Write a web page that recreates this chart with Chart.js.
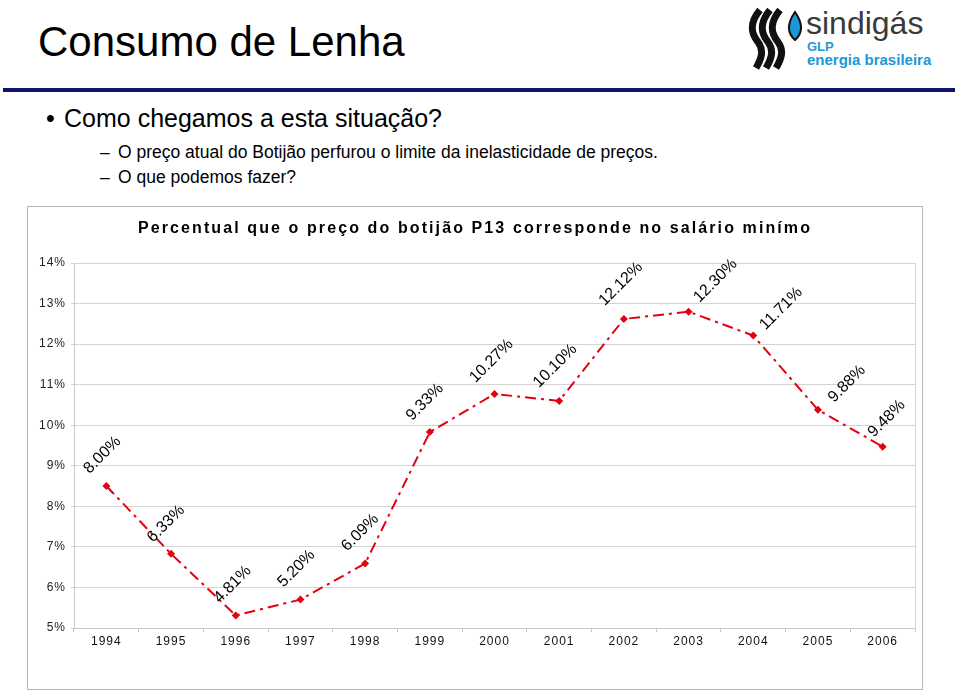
<!DOCTYPE html>
<html>
<head>
<meta charset="utf-8">
<script src="https://cdn.jsdelivr.net/npm/chart.js@4.4.1/dist/chart.umd.min.js"></script>
<style>
  body { margin: 0; width: 960px; height: 693px; background: #fff; font-family: Arial, "Liberation Sans", sans-serif; position: relative; overflow: hidden; }
  .abs { position: absolute; white-space: nowrap; }
  #heading { left: 38px; top: 21px; font-size: 42px; line-height: 42px; color: #000; }
  #rule { left: 3px; top: 88px; width: 952px; height: 4px; background: #11146b; }
  #b1 { left: 46px; top: 103px; font-size: 25px; line-height: 30px; }
  #b1 span { position: absolute; left: 18px; }
  .sub { left: 100px; font-size: 17.5px; line-height: 22px; }
  .sub span { position: absolute; left: 18px; }
  #box { left: 27px; top: 206px; width: 896px; height: 484px; border: 1px solid #b5b5b5; box-sizing: border-box; }
  #ctitle { left: 0; width: 100%; top: 12px; text-align: center; font-weight: bold; font-size: 16px; letter-spacing: 2.1px; color: #000; }
  #wrap { position: absolute; left: 0; top: 0; width: 894px; height: 482px; }
  #logo { left: 748px; top: 2px; width: 190px; height: 72px; }
  #logo .name { position: absolute; left: 58px; top: 3px; font-size: 32px; color: #3a3a3a; }
  #logo .glp { position: absolute; left: 59px; top: 38px; font-size: 13px; font-weight: bold; color: #1f97d4; line-height: 13px; }
  #logo .eb { position: absolute; left: 59px; top: 50px; font-size: 15px; font-weight: bold; color: #1f97d4; line-height: 15px; }
</style>
</head>
<body>
<div id="heading" class="abs">Consumo de Lenha</div>
<div id="logo" class="abs">
  <svg width="56" height="72" style="position:absolute;left:0;top:0">
    <path d="M12 8 C2 20, 2 30, 10 40 C16 48, 14 56, 8 66" stroke="#111" stroke-width="7" fill="none"/>
    <path d="M22 8 C12 20, 12 30, 20 40 C26 48, 24 56, 18 66" stroke="#111" stroke-width="7" fill="none"/>
    <path d="M32 8 C22 20, 22 30, 30 40 C36 48, 34 56, 28 66" stroke="#111" stroke-width="7" fill="none"/>
    <path d="M47 10 C40 20, 38 30, 47 38 C56 30, 54 20, 47 10 Z" fill="#1f97d4" stroke="#111" stroke-width="2"/>
  </svg>
  <div class="name">sindigás</div>
  <div class="glp">GLP</div>
  <div class="eb">energia brasileira</div>
</div>
<div id="rule" class="abs"></div>
<div id="b1" class="abs">•<span>Como chegamos a esta situação?</span></div>
<div class="abs sub" style="top:141px">–<span>O preço atual do Botijão perfurou o limite da inelasticidade de preços.</span></div>
<div class="abs sub" style="top:166px">–<span>O que podemos fazer?</span></div>

<div id="box" class="abs">
  <div id="wrap"><canvas id="chart"></canvas></div>
  <div id="ctitle" class="abs">Percentual que o preço do botijão P13 corresponde no salário minímo</div>
</div>

<script>
const years = ['1994', '1995', '1996', '1997', '1998', '1999', '2000', '2001', '2002', '2003', '2004', '2005', '2006'];
// point heights as read against the printed axis
const shares = [8.50, 6.83, 5.31, 5.70, 6.59, 9.83, 10.77, 10.60, 12.62, 12.80, 12.21, 10.38, 9.47];
// the value labels printed next to each point
const pointLabels = ['8.00%', '6.33%', '4.81%', '5.20%', '6.09%', '9.33%', '10.27%', '10.10%', '12.12%', '12.30%', '11.71%', '9.88%', '9.48%'];
const yTicks = [5, 6, 7, 8, 9, 10, 11, 12, 13, 14];

const labelShift = [[-4, -31], [-5, -30], [-3, -31], [-4, -31], [-5, -31], [-5, -30], [-3, -33],
                    [-4, -35], [-3, -35], [27, -31], [28, -27], [29, -26], [4, -28]];

const spacing = {
    id: 'spacing',
    beforeDraw(chart) { chart.ctx.letterSpacing = '1px'; },
    afterDraw(chart) { chart.ctx.letterSpacing = '0px'; }
};

const pointText = {
    id: 'pointText',
    afterDatasetsDraw(chart) {
        const ctx = chart.ctx;
        const meta = chart.getDatasetMeta(0);
        meta.data.forEach((pt, i) => {
            const [dx, dy] = labelShift[i];
            ctx.save();
            ctx.letterSpacing = '0px';
            ctx.translate(pt.x + dx, pt.y + dy);
            ctx.rotate(-Math.PI / 4);
            ctx.font = '16px Arial, "Liberation Sans", sans-serif';
            ctx.fillStyle = '#000';
            ctx.textAlign = 'center';
            ctx.textBaseline = 'middle';
            ctx.fillText(pointLabels[i], 0, 0);
            ctx.restore();
        });
    }
};

new Chart(document.getElementById('chart'), {
    type: 'line',
    data: {
        labels: years,
        datasets: [{
            data: shares,
            borderColor: '#e3000f',
            backgroundColor: '#e3000f',
            borderWidth: 2,
            borderDash: [11, 5, 3, 5],
            pointStyle: 'rectRot',
            pointRadius: 4,
            pointBorderWidth: 0,
            tension: 0
        }]
    },
    options: {
        responsive: true,
        maintainAspectRatio: false,
        animation: false,
        layout: { padding: { top: 56, right: 7, left: 0, bottom: 0 } },
        plugins: { legend: { display: false }, tooltip: { enabled: false } },
        scales: {
            x: {
                offset: true,
                grid: { offset: true, drawOnChartArea: false, color: '#c8c8c8', tickLength: 4 },
                border: { color: '#c8c8c8' },
                ticks: { color: '#111', font: { size: 12, family: 'Arial' }, padding: 2, maxRotation: 0 },
                afterFit(s) { s.height = 61; }
            },
            y: {
                min: 5,
                max: 14,
                afterBuildTicks(s) { s.ticks = yTicks.map(v => ({ value: v })); },
                grid: { color: '#d4d4d4', tickLength: 3 },
                border: { color: '#c8c8c8' },
                ticks: { color: '#222', font: { size: 12, family: 'Arial' }, padding: 5, callback: v => v + '%' },
                afterFit(s) { s.width = 46; }
            },
            y2: {
                position: 'right',
                min: 5,
                max: 14,
                grid: { display: false },
                border: { color: '#d4d4d4' },
                ticks: { display: false },
                afterFit(s) { s.width = 0; }
            }
        }
    },
    plugins: [spacing, pointText]
});
</script>
</body>
</html>
